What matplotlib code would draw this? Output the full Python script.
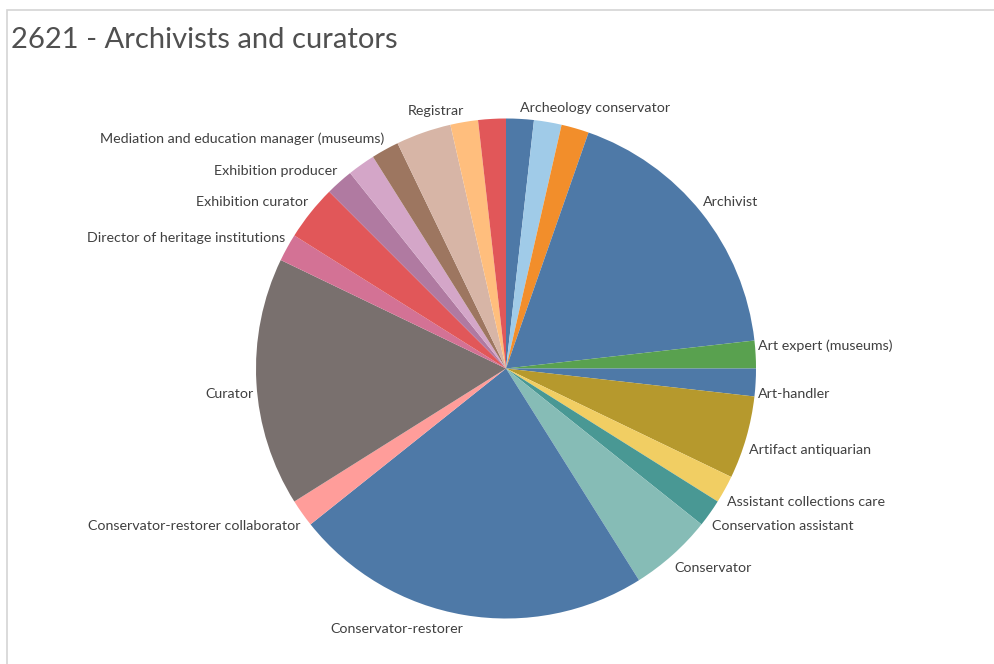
import numpy as np
import matplotlib
matplotlib.use("Agg")
import matplotlib.pyplot as plt
from matplotlib.patches import Rectangle

# Slices in drawing order (clockwise from 12 o'clock); '' = slice without a visible label
labels = ['Archeology conservator', '', '', 'Archivist', 'Art expert (museums)',
          'Art-handler', 'Artifact antiquarian', 'Assistant collections care',
          'Conservation assistant', 'Conservator', 'Conservator-restorer',
          'Conservator-restorer collaborator', 'Curator',
          'Director of heritage institutions', 'Exhibition curator',
          'Exhibition producer', '', 'Mediation and education manager (museums)',
          '', 'Registrar', '']
counts = [1, 1, 1, 10, 1, 1, 3, 1, 1, 3, 13, 1, 9, 1, 2, 1, 1, 1, 2, 1, 1]
colors = ['#4E79A7', '#A0CBE8', '#F28E2B', '#4E79A7', '#59A14F', '#4E79A7',
          '#B6992D', '#F1CE63', '#499894', '#86BCB6', '#4E79A7', '#FF9D9A',
          '#79706E', '#D37295', '#E15759', '#B07AA1', '#D4A6C8', '#9D7660',
          '#D7B5A6', '#FFBE7D', '#E15759']

W, H = 994, 664
cx, cy, r = 506, 368.5, 250  # pie centre / radius in pixels

fig = plt.figure(figsize=(W / 100, H / 100), dpi=100)
fig.patch.set_facecolor('white')

# light frame of the dashboard sheet
fig.add_artist(Rectangle((7 / W, -0.1), 1.1, 1 - 10 / H + 0.1, transform=fig.transFigure,
                         fill=False, edgecolor='#d4d4d4', linewidth=1.2))

fig.text(11 / W, 1 - 40 / H, '2621 - Archivists and curators', fontsize=21,
         family='Lato', color='#505050', va='center', ha='left')

ax = fig.add_axes([(cx - r) / W, (H - cy - r) / H, 2 * r / W, 2 * r / H])
ax.pie(counts, colors=colors, startangle=90, counterclock=False, radius=1,
       wedgeprops=dict(linewidth=0))
ax.set_xlim(-1, 1)
ax.set_ylim(-1, 1)
ax.axis('off')

# labels sit at the outer edge of each slice's mid angle, like Tableau does
total = sum(counts)
cum = np.cumsum([0] + counts)
for i, lab in enumerate(labels):
    if not lab:
        continue
    mid = (cum[i] + counts[i] / 2) / total * 2 * np.pi  # clockwise from top
    x = np.sin(mid) * 1.01
    y = np.cos(mid) * 1.01
    ha = 'left' if x >= 0 else 'right'
    va = 'bottom' if y >= 0 else 'top'
    dy = 2 if y >= 0 else -4
    ax.annotate(lab, (x, y), xytext=(0, dy), textcoords='offset points',
                ha=ha, va=va, fontsize=10.3, family='Lato', color='#404040',
                annotation_clip=False)

fig.savefig('out.png', dpi=100)
